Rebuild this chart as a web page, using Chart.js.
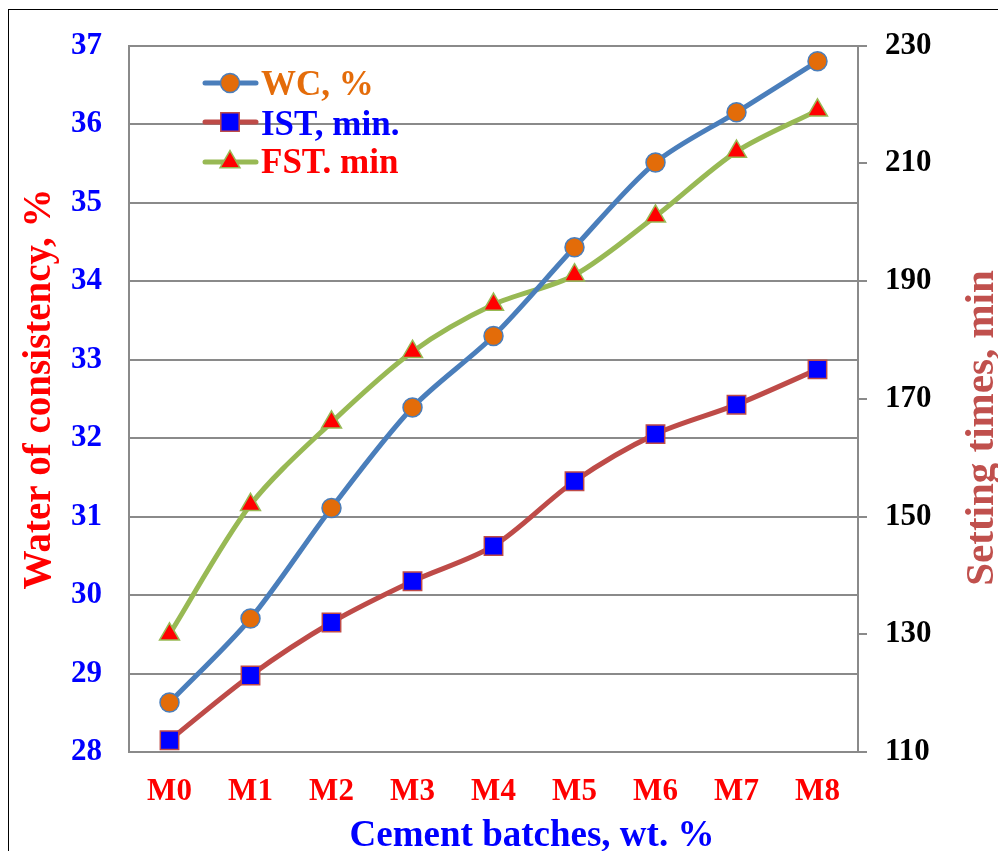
<!DOCTYPE html>
<html>
<head>
<meta charset="utf-8">
<title>Water of consistency and setting times of cement batches</title>
<script src="https://cdn.jsdelivr.net/npm/chart.js@4/dist/chart.umd.min.js"></script>
<style>
  html, body { margin: 0; padding: 0; background: #ffffff; }
  canvas { display: block; }
</style>
</head>
<body>
<canvas id="chart" width="998" height="851"></canvas>
<script>
// Cement batches on the category axis
const batches = ['M0', 'M1', 'M2', 'M3', 'M4', 'M5', 'M6', 'M7', 'M8'];

// Water of consistency, % (left axis)
const waterConsistency = [28.63, 29.70, 31.11, 32.39, 33.30, 34.43, 35.51, 36.15, 36.80];

// Initial and final setting times, min (right axis)
const initialSetting = [112, 123, 132, 139, 145, 156, 164, 169, 175];
const finalSetting = [130, 152, 166, 178, 186, 191, 201, 212, 219];

// Axis ranges: [min, max, step]
const wcTicks = [28, 37, 1];
const timeTicks = [110, 230, 20];

// Legend entries
const legendLabels = ['WC, %', 'IST, min.', 'FST. min'];

const SERIF = "'Liberation Serif', 'Times New Roman', Times, serif";
const GRID = '#8a8a8a';

const seriesStyle = [
  { line: '#4A7EBB', fill: '#E36C09', shape: 'circle', radius: 9.5, text: '#E46C0A' },
  { line: '#BE4B48', fill: '#0000FF', shape: 'rect', radius: 13, text: '#0000FF' },
  { line: '#98B954', fill: '#FF0000', shape: 'triangle', radius: 11.5, text: '#FF0000' }
];

function dataset(label, data, axis, s) {
  return {
    label: label,
    data: data,
    yAxisID: axis,
    borderColor: s.line,
    borderWidth: 5,
    tension: 0.3,
    fill: false,
    clip: false,
    pointStyle: s.shape,
    pointRadius: s.radius,
    pointHoverRadius: s.radius,
    pointBackgroundColor: s.fill,
    pointBorderColor: s.line,
    pointBorderWidth: 1.5
  };
}

// Frame, axis titles and the inset legend
const decorations = {
  id: 'decorations',
  beforeDraw(chart) {
    const ctx = chart.ctx;
    ctx.save();
    ctx.fillStyle = '#ffffff';
    ctx.fillRect(0, 0, chart.width, chart.height);
    ctx.strokeStyle = '#000000';
    ctx.lineWidth = 1;
    ctx.strokeRect(8.5, 9.5, 1000, 900);
    ctx.restore();
  },
  afterDraw(chart) {
    const ctx = chart.ctx;
    ctx.save();

    // left axis title
    ctx.save();
    ctx.translate(50, 389);
    ctx.rotate(-Math.PI / 2);
    ctx.font = 'bold 39px ' + SERIF;
    ctx.fillStyle = '#FF0000';
    ctx.textAlign = 'center';
    ctx.textBaseline = 'alphabetic';
    ctx.fillText('Water of consistency, %', 0, 0);
    ctx.restore();

    // right axis title
    ctx.save();
    ctx.translate(993, 428);
    ctx.rotate(-Math.PI / 2);
    ctx.font = 'bold 41px ' + SERIF;
    ctx.fillStyle = '#C0504D';
    ctx.textAlign = 'center';
    ctx.textBaseline = 'alphabetic';
    ctx.fillText('Setting times, min', 0, 0);
    ctx.restore();

    // category axis title
    ctx.font = 'bold 37px ' + SERIF;
    ctx.fillStyle = '#0000FF';
    ctx.textAlign = 'center';
    ctx.textBaseline = 'alphabetic';
    ctx.fillText('Cement batches, wt. %', 532, 846);

    // legend
    const rows = [83, 122, 162];
    const baselines = [95, 135, 173];
    ctx.font = 'bold 35px ' + SERIF;
    ctx.textAlign = 'left';
    legendLabels.forEach((label, i) => {
      const s = seriesStyle[i];
      ctx.strokeStyle = s.line;
      ctx.lineWidth = 5;
      ctx.lineCap = 'round';
      ctx.beginPath();
      ctx.moveTo(205, rows[i]);
      ctx.lineTo(256, rows[i]);
      ctx.stroke();
      ctx.fillStyle = s.fill;
      ctx.strokeStyle = s.line;
      ctx.lineWidth = 1.5;
      Chart.helpers.drawPoint(ctx, { pointStyle: s.shape, radius: s.radius, borderWidth: 1.5, rotation: 0 }, 230, rows[i]);
      ctx.fillStyle = s.text;
      ctx.fillText(label, 261, baselines[i]);
    });

    ctx.restore();
  }
};

new Chart(document.getElementById('chart'), {
  type: 'line',
  data: {
    labels: batches,
    datasets: [
      dataset(legendLabels[0], waterConsistency, 'yL', seriesStyle[0]),
      dataset(legendLabels[1], initialSetting, 'yR', seriesStyle[1]),
      dataset(legendLabels[2], finalSetting, 'yR', seriesStyle[2])
    ]
  },
  options: {
    responsive: false,
    devicePixelRatio: 1,
    animation: false,
    events: [],
    layout: { padding: { top: 45, left: 0, right: 0, bottom: 0 } },
    plugins: {
      legend: { display: false },
      tooltip: { enabled: false },
      title: { display: false }
    },
    scales: {
      x: {
        type: 'category',
        offset: true,
        grid: { display: true, drawOnChartArea: false, drawTicks: false, color: GRID, lineWidth: 2 },
        border: { display: true, color: GRID, width: 2 },
        ticks: {
          color: '#FF0000',
          padding: 21,
          maxRotation: 0,
          autoSkip: false,
          font: { family: SERIF, size: 31, weight: 'bold' }
        },
        afterFit(scale) { scale.height = 99; }
      },
      yL: {
        type: 'linear',
        position: 'left',
        min: wcTicks[0],
        max: wcTicks[1],
        grid: { drawOnChartArea: true, drawTicks: false, color: GRID, lineWidth: 2 },
        border: { display: true, color: GRID, width: 2 },
        ticks: {
          stepSize: wcTicks[2],
          color: '#0000FF',
          padding: 27,
          font: { family: SERIF, size: 31, weight: 'bold' }
        },
        afterFit(scale) { scale.width = 129; }
      },
      yR: {
        type: 'linear',
        position: 'right',
        min: timeTicks[0],
        max: timeTicks[1],
        grid: { drawOnChartArea: false, drawTicks: true, tickLength: 9, color: GRID, lineWidth: 2 },
        border: { display: true, color: GRID, width: 2 },
        ticks: {
          stepSize: timeTicks[2],
          color: '#000000',
          padding: 18,
          font: { family: SERIF, size: 31, weight: 'bold' }
        },
        afterFit(scale) { scale.width = 140; }
      }
    }
  },
  plugins: [decorations]
});
</script>
</body>
</html>
